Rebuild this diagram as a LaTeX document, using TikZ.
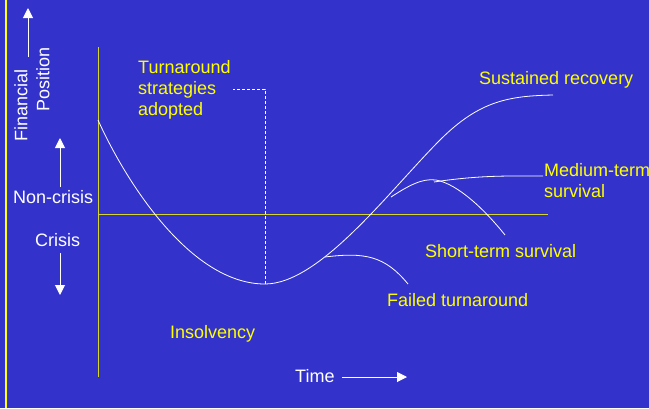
\documentclass[tikz,border=0pt]{standalone}
\usepackage{fontspec}
\setmainfont{Liberation Sans}
\usetikzlibrary{arrows.meta, positioning}
\definecolor{bgBlue}{HTML}{3333CC}
\definecolor{labelYellow}{HTML}{FFFF00}
\definecolor{axisYellow}{HTML}{D6D629}
\tikzset{
  lbl/.style={text=labelYellow, font=\fontsize{18}{21}\selectfont, inner sep=0pt, align=left},
  wlbl/.style={lbl, text=white},
  curve/.style={white, line width=0.8pt},
  arr/.style={white, line width=1pt, -{Triangle[width=10pt,length=10pt]}}
}
\begin{document}
\begin{tikzpicture}[x=1pt, y=-1pt]
\fill[bgBlue] (0,0) rectangle (649,408);
\useasboundingbox (0,0) rectangle (649,408);
\clip (0,0) rectangle (649,408);

\draw[labelYellow, line width=2pt] (6,0) -- (6,408);
\draw[axisYellow, line width=1pt] (98,47) -- (98,377);
\draw[axisYellow, line width=1pt] (98,214) -- (548,214);

\coordinate (start) at (98,120);
\coordinate (bottom) at (265,284);
\coordinate (rise) at (440,140);
\coordinate (recovery) at (553,95);
\coordinate (failFrom) at (325,257);
\coordinate (failTo) at (408,284);
\coordinate (survFrom) at (391,197);
\coordinate (peak) at (436,180);
\coordinate (shortTo) at (505,235);
\coordinate (mediumTo) at (543,176);
\coordinate (dashTop) at (265,89);
\coordinate (dashEnd) at (233,89);

\draw[curve] (start) .. controls (125,180) and (190,284) .. (bottom)
  .. controls (320,284) and (390,190) .. (rise)
  .. controls (480,100) and (510,96) .. (recovery);
\draw[curve] (failFrom) .. controls (365,252) and (385,256) .. (failTo);
\draw[curve] (survFrom) .. controls (408,186) and (422,178) .. (peak)
  .. controls (458,184) and (485,210) .. (shortTo);
\draw[curve] (434,182) .. controls (480,175) and (510,176) .. (mediumTo);
\draw[white, line width=0.7pt, dash pattern=on 3pt off 2pt] (bottom) -- (dashTop) -- (dashEnd);

\node[lbl, anchor=base west] (turnaround) at (138,115) {Turnaround\\strategies\\adopted};
\node[lbl, anchor=base west] (sustained) at (479,84) {Sustained recovery};
\node[lbl, anchor=base west] (medium) at (544,197) {Medium-term\\survival};
\node[lbl, anchor=base west] (short) at (425,257) {Short-term survival};
\node[lbl, anchor=base west] (failed) at (387,306) {Failed turnaround};
\node[lbl, anchor=base west] (insolvency) at (170,338) {Insolvency};

\node[wlbl, anchor=base west] (time) at (295,382) {Time};
\node[wlbl, anchor=base west] (noncrisis) at (13,203) {Non-crisis};
\node[wlbl, anchor=base west] (crisis) at (35,246) {Crisis};
\node[wlbl, rotate=90] (financial) at (21,105) {Financial};
\node[wlbl, rotate=90] (position) at (43,79) {Position};

\coordinate (timeFoot) at (342,377);
\coordinate (timeTip) at (407,377);
\coordinate (upFoot) at (60,187);
\coordinate (upTip) at (60,138);
\coordinate (downFoot) at (60,253);
\coordinate (downTip) at (60,295);
\coordinate (finFoot) at (28,57);
\coordinate (finTip) at (28,8);
\draw[arr] (timeFoot) -- (timeTip);
\draw[arr] (upFoot) -- (upTip);
\draw[arr] (downFoot) -- (downTip);
\draw[arr] (finFoot) -- (finTip);
\end{tikzpicture}
\end{document}
